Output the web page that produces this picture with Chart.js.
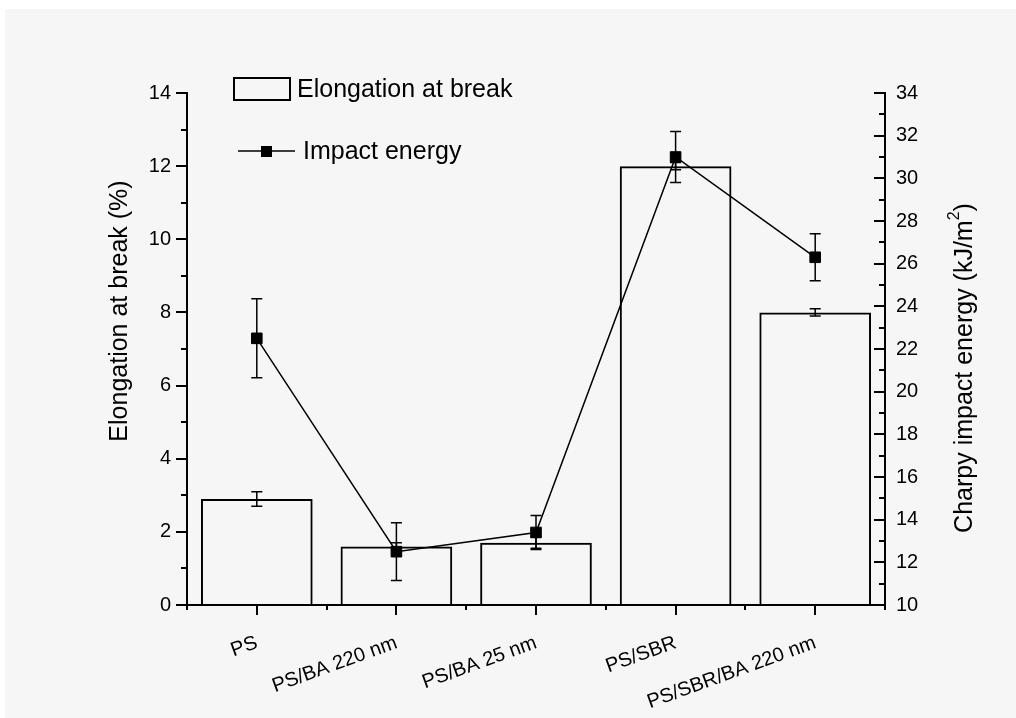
<!DOCTYPE html>
<html><head><meta charset="utf-8">
<script src="https://cdn.jsdelivr.net/npm/chart.js@4.4.0/dist/chart.umd.min.js"></script>
<style>html,body{margin:0;padding:0;background:#f6f6f6;}#wrap{width:1016px;height:718px;position:relative;}</style>
</head><body><div id="wrap"><canvas id="c" width="1016" height="718"></canvas></div>
<script>
const categories = ['PS', 'PS/BA 220 nm', 'PS/BA 25 nm', 'PS/SBR', 'PS/SBR/BA 220 nm'];
const elongation = [2.9, 1.6, 1.7, 12.0, 8.0];
const elongationErr = [0.2, 0.1, 0.15, 0.1, 0.1];
const impact = [22.5, 12.5, 13.4, 31.0, 26.3];
const impactErr = [1.85, 1.35, 0.8, 1.2, 1.1];
const leftRange = [0, 14];
const rightRange = [10, 34];
const seriesNames = ['Elongation at break', 'Impact energy'];
const leftTitle = 'Elongation at break (%)';
const rightTitleMain = 'Charpy impact energy (kJ/m';
const rightTitleSup = '2';
const rightTitleEnd = ')';

const FONT = "'Liberation Sans', Arial, sans-serif";

const custom = {
  id: 'custom',
  beforeDraw(chart) {
    const ctx = chart.ctx, W = chart.width, H = chart.height;
    ctx.save();
    ctx.fillStyle = '#ffffff';
    ctx.fillRect(0, 0, W, H);
    ctx.fillStyle = '#f6f6f6';
    ctx.fillRect(5, 9, W - 5, H - 9);
    ctx.restore();
  },
  afterDatasetsDraw(chart) {
    const ctx = chart.ctx;
    const x = chart.scales.x, y = chart.scales.y, y1 = chart.scales.y1;
    ctx.save();
    ctx.strokeStyle = '#000';
    ctx.lineWidth = 1.5;
    const cap = 5.5;
    const drawErr = (px, top, bot) => {
      ctx.beginPath();
      ctx.moveTo(px, top); ctx.lineTo(px, bot);
      ctx.moveTo(px - cap, top); ctx.lineTo(px + cap, top);
      ctx.moveTo(px - cap, bot); ctx.lineTo(px + cap, bot);
      ctx.stroke();
    };
    categories.forEach((c, i) => {
      const px = x.getPixelForValue(i);
      drawErr(px, y.getPixelForValue(elongation[i] + elongationErr[i]), y.getPixelForValue(elongation[i] - elongationErr[i]));
      drawErr(px, y1.getPixelForValue(impact[i] + impactErr[i]), y1.getPixelForValue(impact[i] - impactErr[i]));
    });
    ctx.restore();
  },
  afterDraw(chart) {
    const ctx = chart.ctx;
    const x = chart.scales.x, y = chart.scales.y, y1 = chart.scales.y1;
    const area = chart.chartArea;
    ctx.save();
    ctx.strokeStyle = '#000';
    ctx.lineWidth = 2;
    ctx.beginPath();
    for (let v = leftRange[0]; v <= leftRange[1]; v += 1) {
      const py = Math.round(y.getPixelForValue(v));
      const len = v % 2 === 0 ? 11 : 6;
      ctx.moveTo(area.left, py); ctx.lineTo(area.left - len, py);
    }
    for (let v = rightRange[0]; v <= rightRange[1]; v += 1) {
      const py = Math.round(y1.getPixelForValue(v));
      const len = v % 2 === 0 ? 11 : 6;
      ctx.moveTo(area.right, py); ctx.lineTo(area.right - len, py);
    }
    const step = x.getPixelForValue(1) - x.getPixelForValue(0);
    categories.forEach((c, i) => {
      const px = Math.round(x.getPixelForValue(i));
      ctx.moveTo(px, area.bottom); ctx.lineTo(px, area.bottom + 10);
    });
    for (let i = 0; i <= categories.length; i++) {
      const px = Math.round(x.getPixelForValue(i) - step / 2);
      ctx.moveTo(px, area.bottom); ctx.lineTo(px, area.bottom + 5);
    }
    ctx.stroke();

    // legend
    ctx.lineWidth = 2;
    ctx.strokeRect(234, 78, 56, 22);
    ctx.fillStyle = '#000';
    ctx.font = '25px ' + FONT;
    ctx.textBaseline = 'middle';
    ctx.textAlign = 'left';
    ctx.fillText(seriesNames[0], 297, 90);
    ctx.lineWidth = 1.5;
    ctx.beginPath();
    ctx.moveTo(238, 151); ctx.lineTo(295, 151);
    ctx.stroke();
    ctx.fillRect(261, 146, 11, 11);
    ctx.fillText(seriesNames[1], 303, 152);

    // left title
    ctx.font = '25px ' + FONT;
    ctx.save();
    ctx.translate(120, 311);
    ctx.rotate(-Math.PI / 2);
    ctx.textAlign = 'center';
    ctx.fillText(leftTitle, 0, 0);
    ctx.restore();

    // right title with superscript
    ctx.save();
    ctx.translate(965, 368);
    ctx.rotate(-Math.PI / 2);
    ctx.textAlign = 'left';
    ctx.font = '25px ' + FONT;
    const w1 = ctx.measureText(rightTitleMain).width;
    const w3 = ctx.measureText(rightTitleEnd).width;
    ctx.font = '16px ' + FONT;
    const w2 = ctx.measureText(rightTitleSup).width;
    const total = w1 + w2 + w3;
    const sx = -total / 2;
    ctx.font = '25px ' + FONT;
    ctx.fillText(rightTitleMain, sx, 0);
    ctx.font = '16px ' + FONT;
    ctx.fillText(rightTitleSup, sx + w1, -10);
    ctx.font = '25px ' + FONT;
    ctx.fillText(rightTitleEnd, sx + w1 + w2, 0);
    ctx.restore();
    ctx.restore();
  }
};

new Chart(document.getElementById('c'), {
  type: 'bar',
  data: {
    labels: categories,
    datasets: [
      {
        type: 'bar',
        label: seriesNames[0],
        data: elongation,
        yAxisID: 'y',
        backgroundColor: 'rgba(0,0,0,0)',
        borderColor: '#000',
        borderWidth: 2,
        barPercentage: 0.8,
        categoryPercentage: 1.0,
        order: 2
      },
      {
        type: 'line',
        label: seriesNames[1],
        data: impact,
        yAxisID: 'y1',
        borderColor: '#000',
        borderWidth: 1.5,
        pointStyle: 'rect',
        pointRadius: 7.5,
        pointBackgroundColor: '#000',
        pointBorderColor: '#000',
        pointBorderWidth: 1,
        tension: 0,
        fill: false,
        order: 1
      }
    ]
  },
  options: {
    responsive: false,
    animation: false,
    devicePixelRatio: 1,
    layout: { padding: { top: 93, left: 0, right: 0, bottom: 0 } },
    plugins: { legend: { display: false }, tooltip: { enabled: false } },
    scales: {
      x: {
        type: 'category',
        offset: true,
        grid: { display: false, drawTicks: false },
        border: { display: true, color: '#000', width: 2 },
        ticks: {
          color: '#000', font: { family: FONT, size: 20 },
          minRotation: 20, maxRotation: 20, autoSkip: false, padding: 26
        },
        afterFit: (s) => { s.height = 113; }
      },
      y: {
        position: 'left',
        min: leftRange[0], max: leftRange[1],
        grid: { display: false, drawTicks: false },
        border: { display: true, color: '#000', width: 2 },
        ticks: { stepSize: 2, color: '#000', font: { family: FONT, size: 20 }, padding: 16 },
        afterFit: (s) => { s.width = 187; }
      },
      y1: {
        position: 'right',
        min: rightRange[0], max: rightRange[1],
        grid: { display: false, drawTicks: false },
        border: { display: true, color: '#000', width: 2 },
        ticks: { stepSize: 2, color: '#000', font: { family: FONT, size: 20 }, padding: 11 },
        afterFit: (s) => { s.width = 131; }
      }
    }
  },
  plugins: [custom]
});
</script>
</body></html>
